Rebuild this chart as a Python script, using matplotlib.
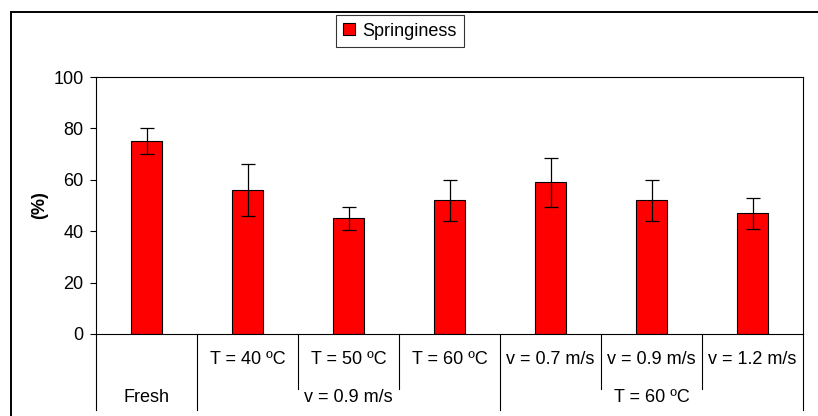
import matplotlib.pyplot as plt
import matplotlib.patches as mpatches
import numpy as np

plt.rcParams['font.family'] = ['Liberation Sans', 'DejaVu Sans']

# data
labels = ['', 'T = 40 ºC', 'T = 50 ºC', 'T = 60 ºC', 'v = 0.7 m/s', 'v = 0.9 m/s', 'v = 1.2 m/s']
groups = ['Fresh', 'v = 0.9 m/s', 'T = 60 ºC']
group_span = [(0, 0), (1, 3), (4, 6)]
springiness = [75, 56, 45, 52, 59, 52, 47]
err = [5, 10, 4.5, 8, 9.5, 8, 6]

W, H = 818, 416
fig = plt.figure(figsize=(W / 100, H / 100), dpi=100)
fs = 13

# plot area in pixels
x0, x1, ytop, ybot = 96, 803, 77, 334
ax = fig.add_axes([x0 / W, (H - ybot) / H, (x1 - x0) / W, (ybot - ytop) / H])

x = np.arange(len(springiness))
ax.bar(x, springiness, width=0.31, color='#FF0000', edgecolor='black', linewidth=0.8,
       label='Springiness', zorder=2)
ax.errorbar(x, springiness, yerr=err, fmt='none', ecolor='black', elinewidth=0.9,
            capsize=5, capthick=0.9, zorder=3)

ax.set_xlim(-0.5, 6.5)
ax.set_ylim(0, 100)
ax.set_yticks(range(0, 101, 20))
ax.tick_params(axis='y', direction='out', length=4.5, width=0.8, labelsize=fs, pad=4.5)
ax.set_xticks([])
for s in ax.spines.values():
    s.set_linewidth(0.8)

fig.text(40 / W, 1 - 205 / H, '(%)', rotation=90, fontsize=fs, fontweight='bold',
         ha='center', va='center')

# category table under the axis
trans = ax.get_xaxis_transform()
row1_low = (ybot - 389) / (ybot - ytop)
row2_low = (ybot - 410) / (ybot - ytop)
row1_y = (ybot - 360) / (ybot - ytop)
row2_y = (ybot - 398) / (ybot - ytop)

for i, lab in enumerate(labels):
    if lab:
        ax.text(i, row1_y, lab, transform=trans, ha='center', va='center', fontsize=fs)
for g, (a, b) in zip(groups, group_span):
    ax.text((a + b) / 2, row2_y, g, transform=trans, ha='center', va='center', fontsize=fs)
    for k in range(a, b):
        ax.plot([k + 0.5, k + 0.5], [0, row1_low], transform=trans, color='black',
                lw=0.8, clip_on=False)
    ax.plot([a - 0.5, a - 0.5], [0, row2_low], transform=trans, color='black',
            lw=0.8, clip_on=False)
ax.plot([6.5, 6.5], [0, row2_low], transform=trans, color='black', lw=0.8, clip_on=False)

# legend
leg = fig.legend(loc='center', bbox_to_anchor=(400 / W, 1 - 31 / H), fontsize=fs,
                 frameon=True, fancybox=False, edgecolor='black', handlelength=0.65,
                 handleheight=0.65, handletextpad=0.4, borderpad=0.4)
leg.get_frame().set_linewidth(0.8)

# outer chart frame
frame = mpatches.Rectangle((11 / W, -0.01), 1.0, 1 - 12 / H + 0.01, transform=fig.transFigure,
                           fill=False, edgecolor='black', linewidth=1.4, clip_on=False)
fig.patches.append(frame)

fig.savefig('out.png', dpi=100)
